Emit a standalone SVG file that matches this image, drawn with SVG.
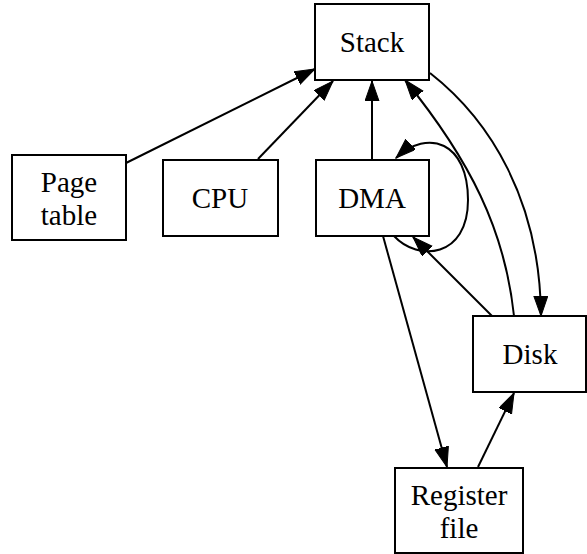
<svg xmlns="http://www.w3.org/2000/svg" width="587" height="554" viewBox="0 0 587 554">
<style>
.box{fill:#fff;stroke:#000;stroke-width:2}
.edge{fill:none;stroke:#000;stroke-width:2;marker-end:url(#arr)}
</style>
<defs>
<marker id="arr" markerUnits="userSpaceOnUse" markerWidth="22" markerHeight="16" refX="20" refY="7" orient="auto">
<path d="M0,0 L20,7 L0,14 z" fill="#000" stroke="#000" stroke-width="1"/>
</marker>
</defs>
<rect width="587" height="554" fill="#fff"/>
<g id="connectors">
<path class="edge" d="M126,163 L315,69"/>
<path class="edge" d="M258,159 L333,81"/>
<path class="edge" d="M372,159 L372,81"/>
<path class="edge" d="M394,236 C418,262 468,258 468,200 C468,142 428,128 396,158"/>
<path class="edge" d="M492,316 L413,237"/>
<path class="edge" d="M514,316 C505,230 470,160 405,80"/>
<path class="edge" d="M430,73 C490,120 540,200 541,316"/>
<path class="edge" d="M383,236 L447,467"/>
<path class="edge" d="M478,467 L514,393"/>
</g>
<g font-family="'Liberation Serif', 'Times New Roman', Times, 'DejaVu Serif', serif" font-size="29" text-anchor="middle" fill="#000">
<g id="node-stack"><rect class="box" x="315" y="4" width="114" height="76"/><text x="372" y="52">Stack</text></g>
<g id="node-pagetable"><rect class="box" x="12" y="155" width="114" height="85"/><text x="69" y="192">Page</text><text x="69" y="225">table</text></g>
<g id="node-cpu"><rect class="box" x="163" y="160" width="115" height="76"/><text x="220" y="208">CPU</text></g>
<g id="node-dma"><rect class="box" x="316" y="160" width="113" height="76"/><text x="372" y="208">DMA</text></g>
<g id="node-disk"><rect class="box" x="473" y="316" width="113" height="76"/><text x="530" y="364">Disk</text></g>
<g id="node-register"><rect class="box" x="395" y="468" width="128" height="85"/><text x="459" y="505">Register</text><text x="459" y="538">file</text></g>
</g>
</svg>
